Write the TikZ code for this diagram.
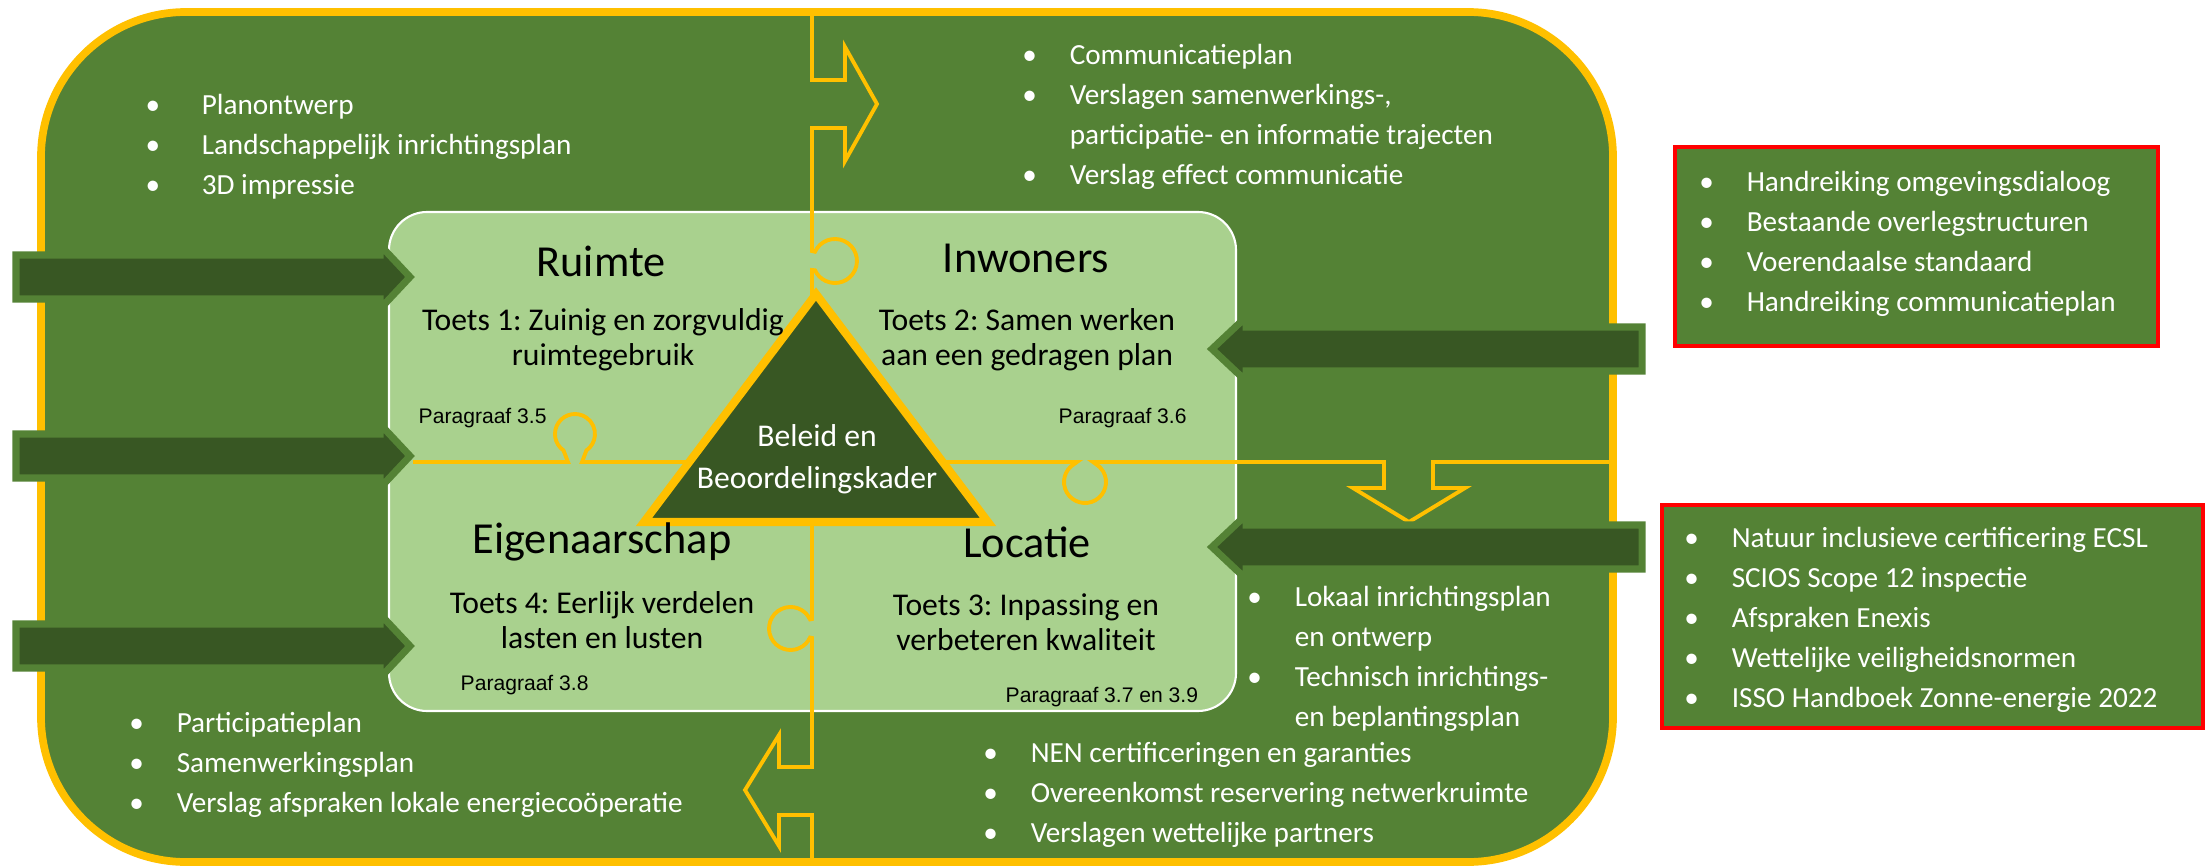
\documentclass[tikz,border=0pt]{standalone}
\usepackage{fontspec}
\setmainfont{Carlito}
\newfontfamily\arialfont{Liberation Sans}
\frenchspacing
\definecolor{outergreen}{HTML}{548235}
\definecolor{lightgreen}{HTML}{A9D18E}
\definecolor{darkgreen}{HTML}{385723}
\definecolor{gold}{HTML}{FFC000}
\newcommand{\bul}[1][13.5pt]{\makebox[#1][l]{\textbullet}}
\tikzset{
	goldline/.style={draw=gold, line width=1.1pt},
	bigarrow/.style={fill=darkgreen, draw=outergreen, line width=2pt},
	redbox/.style={fill=outergreen, draw=red, line width=1.2pt},
	itemlist/.style={anchor=north west, inner sep=0pt, text=white, font=\fontsize{8.3}{11.4}\selectfont},
	cornertitle/.style={font=\fontsize{12.6}{15}\selectfont},
	toets/.style={align=center, font=\fontsize{9}{10}\selectfont},
	parlabel/.style={anchor=west, inner sep=0pt, font=\arialfont\fontsize{6}{7}\selectfont},
}
\begin{document}
\begin{tikzpicture}[x=0.01cm,y=-0.01cm]
	\useasboundingbox (0,0) rectangle (2209,867);
	\draw[fill=outergreen, draw=gold, line width=2.2pt, rounded corners=1.45cm] (41,12) rectangle (1613,862);
	\draw[fill=lightgreen, draw=white, line width=0.6pt, rounded corners=0.38cm] (389,212) rectangle (1236,711);
	\draw[goldline] (812,12) -- (812,80) -- (845,80) -- (845,47) -- (877,104) -- (845,161) -- (845,128) -- (812,128)
		-- (812,251) -- (815,251.7) arc[start angle=205, end angle=515, radius=22] -- (812,270)
		-- (812,619) -- (810,619.4) arc[start angle=-25, end angle=-335, radius=21.5] -- (812,638)
		-- (812,767) -- (779,767) -- (779,735) -- (745,790) -- (779,846) -- (779,815) -- (812,815) -- (812,862);
	\draw[goldline] (413,462) -- (568,462) -- (563.5,450.4) arc[start angle=125, end angle=415, radius=20] -- (582,462)
		-- (1077,462) -- (1074.5,463.8) arc[start angle=240, end angle=-60, radius=21] -- (1093,462)
		-- (1384,462) -- (1384,488) -- (1353,488) -- (1409,522) -- (1465,488) -- (1433,488) -- (1433,462) -- (1613,462);
	\draw[fill=darkgreen, draw=gold, line width=2.3pt] (816,294) -- (988,522) -- (644,522) -- cycle;
	\foreach \y in {277,456,646}
		\draw[bigarrow] (16,\y-22) -- (380,\y-22) -- (380,\y-32) -- (410,\y) -- (380,\y+32) -- (380,\y+22) -- (16,\y+22) -- cycle;
	\foreach \y in {349,547}
		\draw[bigarrow] (1642,\y-22) -- (1246,\y-22) -- (1246,\y-32) -- (1212,\y) -- (1246,\y+32) -- (1246,\y+22) -- (1642,\y+22) -- cycle;
	\draw[redbox] (1675,147) rectangle (2158,346);
	\draw[redbox] (1662,505) rectangle (2203,728);

	\node[cornertitle] (ruimte) at (601,261) {Ruimte};
	\node[cornertitle] (inwoners) at (1026,258) {Inwoners};
	\node[cornertitle] (eigenaarschap) at (602,542) {Eigenaarschap};
	\node[cornertitle] (locatie) at (1027,542) {Locatie};
	\node[toets] (toets1) at (603,340) {Toets 1: Zuinig en zorgvuldig\\ruimtegebruik};
	\node[toets] (toets2) at (1027,340) {Toets 2: Samen werken\\aan een gedragen plan};
	\node[toets] (toets3) at (1026,622) {Toets 3: Inpassing en\\verbeteren kwaliteit};
	\node[toets] (toets4) at (602,620) {Toets 4: Eerlijk verdelen\\lasten en lusten};
	\node[parlabel] (par35) at (418,418) {Paragraaf 3.5};
	\node[parlabel] (par36) at (1058,418) {Paragraaf 3.6};
	\node[parlabel] (par38) at (460,685) {Paragraaf 3.8};
	\node[parlabel] (par39) at (1005,697) {Paragraaf 3.7 en 3.9};
	\node[text=white, align=center, font=\fontsize{9}{12}\selectfont] (kader) at (817,459) {Beleid en\\Beoordelingskader};

	\node[itemlist] (docsruimte) at (144.8,85.5) {\begin{tabular}{@{}l@{}}
		\bul[16pt]Planontwerp\\
		\bul[16pt]Landschappelijk inrichtingsplan\\
		\bul[16pt]3D impressie
	\end{tabular}};
	\node[itemlist] (docsinwoners) at (1021.6,35.5) {\begin{tabular}{@{}l@{}}
		\bul Communicatieplan\\
		\bul Verslagen samenwerkings-,\\
		\hspace*{13.5pt}participatie- en informatie trajecten\\
		\bul Verslag effect communicatie
	\end{tabular}};
	\node[itemlist] (docseigendom) at (128.6,703.5) {\begin{tabular}{@{}l@{}}
		\bul Participatieplan\\
		\bul Samenwerkingsplan\\
		\bul Verslag afspraken lokale energiecoöperatie
	\end{tabular}};
	\node[itemlist] (docslocatie) at (1246.6,577.5) {\begin{tabular}{@{}l@{}}
		\bul Lokaal inrichtingsplan\\
		\hspace*{13.5pt}en ontwerp\\
		\bul Technisch inrichtings-\\
		\hspace*{13.5pt}en beplantingsplan
	\end{tabular}};
	\node[itemlist] (docsnet) at (982.6,733.5) {\begin{tabular}{@{}l@{}}
		\bul NEN certificeringen en garanties\\
		\bul Overeenkomst reservering netwerkruimte\\
		\bul Verslagen wettelijke partners
	\end{tabular}};
	\node[itemlist] (bronnen1) at (1698.6,162.5) {\begin{tabular}{@{}l@{}}
		\bul Handreiking omgevingsdialoog\\
		\bul Bestaande overlegstructuren\\
		\bul Voerendaalse standaard\\
		\bul Handreiking communicatieplan
	\end{tabular}};
	\node[itemlist] (bronnen2) at (1683.6,518.5) {\begin{tabular}{@{}l@{}}
		\bul Natuur inclusieve certificering ECSL\\
		\bul SCIOS Scope 12 inspectie\\
		\bul Afspraken Enexis\\
		\bul Wettelijke veiligheidsnormen\\
		\bul ISSO Handboek Zonne-energie 2022
	\end{tabular}};
\end{tikzpicture}
\end{document}
